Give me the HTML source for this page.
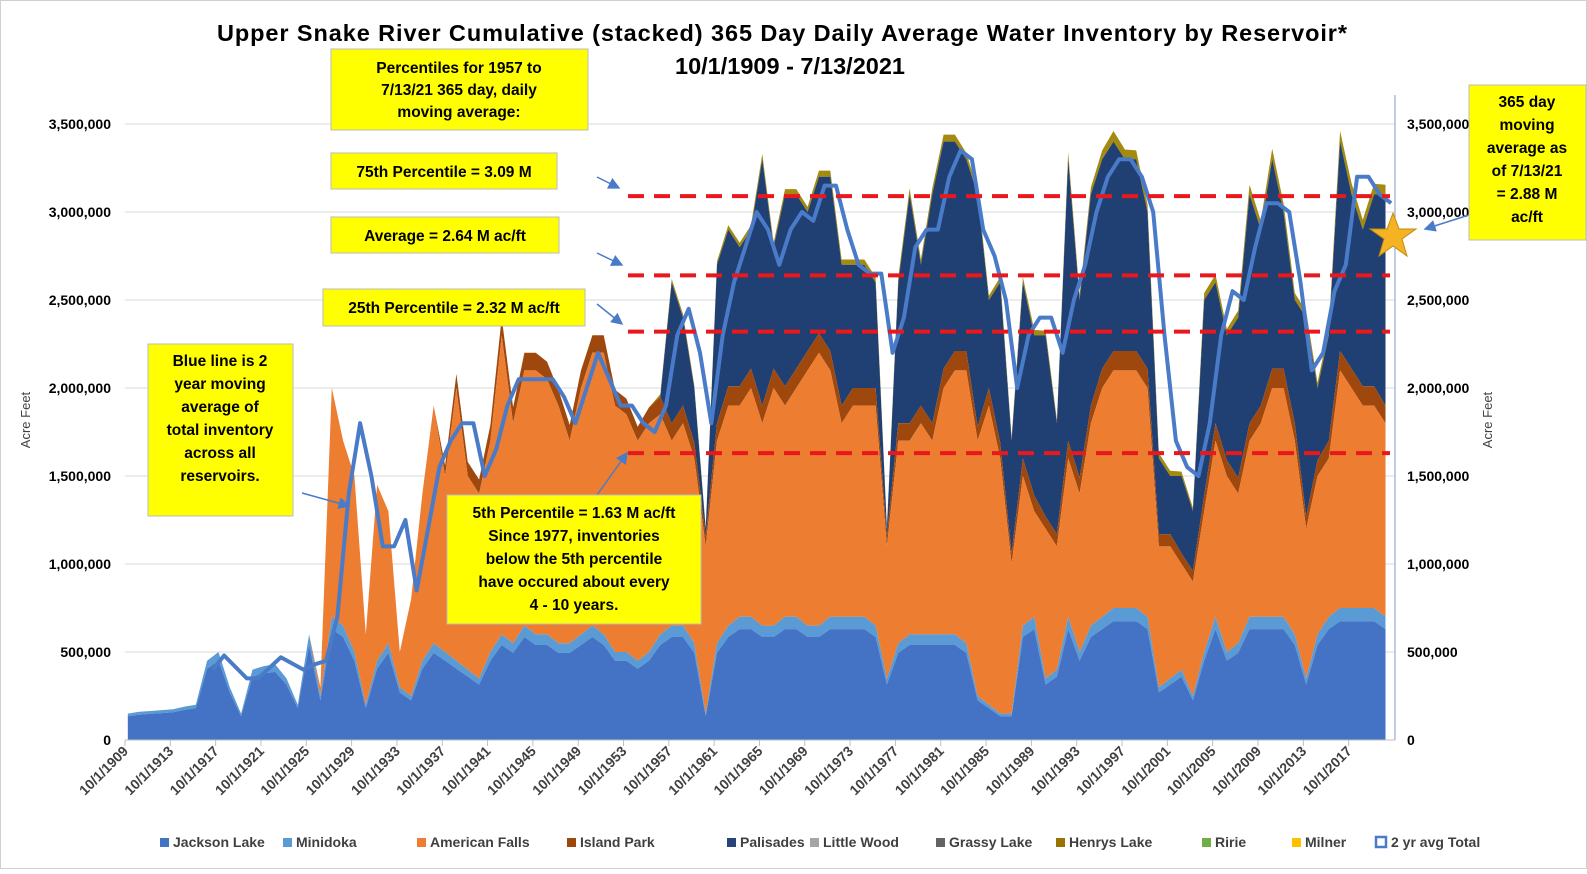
<!DOCTYPE html>
<html><head><meta charset="utf-8"><style>
html,body{margin:0;padding:0;background:#fff;}
body{width:1587px;height:869px;overflow:hidden;font-family:"Liberation Sans",Arial,sans-serif;}
svg text{font-family:"Liberation Sans",Arial,sans-serif;}
</style></head><body>
<svg id="chart" width="1587" height="869" viewBox="0 0 1587 869" xmlns="http://www.w3.org/2000/svg">
<rect x="0.5" y="0.5" width="1586" height="868" fill="#fff" stroke="#d0d0d0"/>
<text x="782" y="41" text-anchor="middle" font-size="23.5" font-weight="bold" fill="#000" textLength="1130">Upper Snake River Cumulative (stacked) 365 Day Daily Average Water Inventory by Reservoir*</text>
<text x="790" y="74" text-anchor="middle" font-size="23.5" font-weight="bold" fill="#000">10/1/1909 - 7/13/2021</text>
<g id="grid"></g>
<g id="areas"></g>
<g id="lines"></g>
<g id="axes"></g>
<g id="annot"></g>
<g id="legend"></g>
</svg>
<script>
const years=[];for(let y=1910;y<=2021;y++)years.push(y);
const blueTop=[150,160,165,170,175,190,200,450,500,300,
150,400,420,430,350,200,600,250,700,650,
500,200,450,550,300,250,450,550,500,450,
400,350,500,600,550,650,600,600,550,550,
600,650,600,500,500,450,500,600,650,650,
550,150,550,650,700,700,650,650,700,700,
650,650,700,700,700,700,650,350,550,600,
600,600,600,600,550,250,200,150,150,650,
700,350,400,700,500,650,700,750,750,750,
700,300,350,400,250,500,700,500,550,700,
700,700,700,600,350,600,700,750,750,750,
750,700];
const orangeTop=[150,160,165,170,175,190,200,450,500,300,
150,400,420,430,350,200,600,300,2000,1700,
1500,600,1450,1300,500,800,1400,1900,1500,2000,
1500,1400,1700,2300,1800,2100,2100,2050,1900,1700,
2000,2200,2200,1900,1850,1700,1800,1850,1700,1800,
1600,1100,1700,1900,1900,2000,1800,2000,1900,2000,
2100,2200,2100,1800,1900,1900,1900,1100,1700,1700,
1800,1700,2000,2100,2100,1700,1900,1600,1000,1500,
1300,1200,1100,1600,1400,1800,2000,2100,2100,2100,
2000,1100,1100,1000,900,1300,1700,1500,1400,1700,
1800,2000,2000,1700,1200,1500,1600,2100,2000,1900,
1900,1800];
const islandPark=[0,0,0,0,0,0,0,0,0,0,
0,0,0,0,0,0,0,0,0,0,
0,0,0,0,0,0,0,0,60,80,
80,80,90,100,90,100,100,100,90,90,
100,100,100,90,90,80,90,100,100,100,
90,60,100,110,110,110,100,110,110,110,
110,110,110,100,100,100,100,60,100,100,
100,100,110,110,110,80,100,90,60,100,
90,70,70,100,90,100,110,110,110,110,
110,70,70,60,60,90,100,90,90,100,
100,110,110,100,70,90,100,110,110,110,
110,100];
const palisadesTop=[0,0,0,0,0,0,0,0,0,0,
0,0,0,0,0,0,0,0,0,0,
0,0,0,0,0,0,0,0,0,0,
0,0,0,0,0,0,0,0,0,0,
0,0,0,0,0,0,0,1800,2600,2400,
2000,1200,2700,2900,2800,2900,3300,2800,3100,3100,
3000,3200,3200,2700,2700,2700,2600,1200,2600,3100,
2700,3100,3400,3400,3300,3100,2500,2600,1700,2600,
2300,2300,1800,3300,2500,3100,3300,3400,3300,3300,
3000,1600,1500,1500,1300,2500,2600,2300,2400,3100,
2900,3300,3000,2500,2400,2000,2300,3400,3100,2900,
3100,3100];
const others=[0,0,0,0,0,0,0,0,0,0,0,0,0,0,0,0,0,0,0,0,0,0,0,0,0,0,0,0,0,0,0,0,0,0,0,0,0,0,0,0,0,0,0,0,0,0,0,
15,20,20,15,10,20,25,25,25,30,25,30,30,30,35,35,30,30,30,30,15,30,35,30,35,40,40,35,30,25,30,20,30,30,25,20,40,30,40,50,60,55,50,45,30,30,25,20,40,45,35,40,55,50,60,50,40,35,30,35,60,65,55,60,55];
const avgYears=[1917,1918,1920,1921,1923,1925,1926,1927,1928,1929,1930,1931,1932,1933,1934,1935,1936,1937,1938,1939,1940,1941,1942,1943,1944,1945,1946,1947,1948,1949,1950,1951,1952,1953,1954,1955,1956,1957,1958,1959,1960,1961,1962,1963,1964,1965,1966,1967,1968,1969,1970,1971,1972,1973,1974,1975,1976,1977,1978,1979,1980,1981,1982,1983,1984,1985,1986,1987,1988,1989,1990,1991,1992,1993,1994,1995,1996,1997,1998,1999,2000,2001,2002,2003,2004,2005,2006,2007,2008,2009,2010,2011,2012,2013,2014,2015,2016,2017,2018,2019,2020,2021];
const avgTotal=[400,480,350,350,470,400,430,450,700,1400,1800,1500,1100,1100,1250,850,1200,1550,1700,1800,1800,1500,1650,1900,2050,2050,2050,2050,1950,1800,2000,2200,2050,1900,1900,1800,1750,1900,2300,2450,2200,1800,2300,2600,2800,3000,2900,2700,2900,3000,2950,3150,3150,2900,2700,2650,2650,2200,2400,2800,2900,2900,3200,3350,3300,2900,2750,2500,2000,2300,2400,2400,2200,2500,2700,3000,3200,3300,3300,3200,3000,2300,1700,1550,1500,1800,2300,2550,2500,2800,3050,3050,3000,2600,2100,2200,2550,2700,3200,3200,3100,3050];
const yTicks=[0,500000,1000000,1500000,2000000,2500000,3000000,3500000];
const xTickYears=[1909,1913,1917,1921,1925,1929,1933,1937,1941,1945,1949,1953,1957,1961,1965,1969,1973,1977,1981,1985,1989,1993,1997,2001,2005,2009,2013,2017];
const percentiles=[3090000,2640000,2320000,1630000];

const NS="http://www.w3.org/2000/svg";
const X0=125,X1=1395,Y0=740,PXV=88/500000;
const xs=yr=>X0+(yr-1909.75)*11.33;
const ys=v=>Y0-v*PXV;
function mk(tag,attrs,parent){const e=document.createElementNS(NS,tag);for(const k in attrs)e.setAttribute(k,attrs[k]);parent.appendChild(e);return e;}
const grid=document.getElementById('grid'),areas=document.getElementById('areas'),lines=document.getElementById('lines'),axes=document.getElementById('axes');

yTicks.forEach((t,i)=>{
 const g=mk('line',{x1:X0,x2:X1,y1:ys(t),y2:ys(t),stroke:'#d9d9d9','stroke-width':1},grid);
 
 
 const lab=t.toLocaleString('en-US');
 const l=mk('text',{x:111,y:ys(t)+5,'text-anchor':'end','font-size':14,'font-weight':'bold',fill:'#000'},axes);l.textContent=lab;
 
 
 const r=mk('text',{x:1407,y:ys(t)+5,'text-anchor':'start','font-size':14,'font-weight':'bold',fill:'#000'},axes);r.textContent=lab;
 
 
});

const lvJack=blueTop.map(v=>v*0.9);
const lvBlue=blueTop;
const lvOrange=orangeTop.map((v,i)=>Math.max(v,blueTop[i]));
const lvIsland=lvOrange.map((v,i)=>v+islandPark[i]);
const lvPal=lvIsland.map((v,i)=>Math.max(v,palisadesTop[i]));
const lvOth=lvPal.map((v,i)=>v+others[i]);
function band(top,bot,color,name){
 let d='M'+xs(years[0])+','+ys(bot[0]*1000);
 years.forEach((y,i)=>{d+=' L'+xs(y).toFixed(1)+','+ys(top[i]*1000).toFixed(1);});
 for(let i=years.length-1;i>=0;i--)d+=' L'+xs(years[i]).toFixed(1)+','+ys(bot[i]*1000).toFixed(1);
 d+='Z';
 const p=mk('path',{d:d,fill:color,stroke:'none'},areas);
 
 
}
const zero=years.map(()=>0);
band(lvOth,lvPal,'#a58a10','area-other-reservoirs');
band(lvPal,lvIsland,'#203f73','area-palisades');
band(lvIsland,lvOrange,'#9E480E','area-island-park');
band(lvOrange,lvBlue,'#ED7D31','area-american-falls');
band(lvBlue,lvJack,'#5B9BD5','area-minidoka');
band(lvJack,zero,'#4472C4','area-jackson-lake');

const ax=mk('line',{x1:X0,x2:X1,y1:Y0,y2:Y0,stroke:'#bfbfbf','stroke-width':1},axes);


const ra=mk('line',{x1:X1,x2:X1,y1:95,y2:Y0,stroke:'#7f9cc9','stroke-width':1},axes);


xTickYears.forEach(yr=>{
 const x=xs(yr+0.75);
 const t=mk('line',{x1:x,x2:x,y1:Y0,y2:Y0+6,stroke:'#bfbfbf'},axes);
 
 
 const l=mk('text',{x:x+4,y:Y0+12,'text-anchor':'end','font-size':14,'font-weight':'bold',fill:'#404040',transform:'rotate(-45 '+(x+4)+' '+(Y0+12)+')'},axes);
 l.textContent='10/1/'+yr;
 
 
});
const lt=mk('text',{x:30,y:420,'text-anchor':'middle','font-size':13,fill:'#404040',transform:'rotate(-90 30 420)'},axes);lt.textContent='Acre Feet';


const rt=mk('text',{x:1492,y:420,'text-anchor':'middle','font-size':13,fill:'#404040',transform:'rotate(-90 1492 420)'},axes);rt.textContent='Acre Feet';



let d='';avgYears.forEach((y,i)=>{d+=(i?' L':'M')+xs(y+0.5).toFixed(1)+','+ys(avgTotal[i]*1000).toFixed(1);});
const al=mk('path',{d:d,fill:'none',stroke:'#4a7bc8','stroke-width':4,'stroke-linejoin':'round'},lines);



percentiles.forEach((p,i)=>{
 const l=mk('line',{x1:628,x2:X1-5,y1:ys(p),y2:ys(p),stroke:'#e8181d','stroke-width':4,'stroke-dasharray':'16,10'},lines);
 
 
});
</script>
<svg style="position:absolute;left:0;top:0" width="1587" height="869">
<defs><marker id="ah" markerWidth="8" markerHeight="8" refX="7" refY="4" orient="auto"><path d="M0,0 L8,4 L0,8Z" fill="#4a7bc8"/></marker></defs>
<g stroke="#4a7bc8" stroke-width="1.5" marker-end="url(#ah)">
<line x1="597" y1="177" x2="619" y2="188"/>
<line x1="597" y1="253" x2="622" y2="265"/>
<line x1="597" y1="304" x2="622" y2="324"/>
<line x1="597" y1="495" x2="627" y2="453"/>
<line x1="302" y1="493" x2="349" y2="506"/>
<line x1="1469" y1="215" x2="1425" y2="229"/>
</g>
<polygon points="1393,213 1399,229 1416,229 1402,239 1407,256 1393,246 1379,256 1384,239 1370,229 1387,229" fill="#f5b323" stroke="#c08a10" stroke-width="1"/>
<g font-size="15.5" font-weight="bold" text-anchor="middle" fill="#000">
<rect x="331" y="49" width="257" height="81" fill="#ffff00" stroke="#bbb"/>
<text x="459" y="73"><tspan x="459">Percentiles for 1957 to</tspan><tspan x="459" dy="22">7/13/21 365 day, daily</tspan><tspan x="459" dy="22">moving average:</tspan></text>
<rect x="331" y="153" width="226" height="36" fill="#ffff00" stroke="#bbb"/>
<text x="444" y="177">75th Percentile = 3.09 M</text>
<rect x="331" y="217" width="228" height="36" fill="#ffff00" stroke="#bbb"/>
<text x="445" y="241">Average = 2.64 M ac/ft</text>
<rect x="323" y="289" width="262" height="37" fill="#ffff00" stroke="#bbb"/>
<text x="454" y="313">25th Percentile = 2.32 M ac/ft</text>
<rect x="148" y="344" width="145" height="172" fill="#ffff00" stroke="#bbb"/>
<text x="220" y="366"><tspan x="220">Blue line is 2</tspan><tspan x="220" dy="23">year moving</tspan><tspan x="220" dy="23">average of</tspan><tspan x="220" dy="23">total inventory</tspan><tspan x="220" dy="23">across all</tspan><tspan x="220" dy="23">reservoirs.</tspan></text>
<rect x="447" y="495" width="254" height="129" fill="#ffff00" stroke="#bbb"/>
<text x="574" y="518"><tspan x="574">5th Percentile = 1.63 M ac/ft</tspan><tspan x="574" dy="23">Since 1977, inventories</tspan><tspan x="574" dy="23">below the 5th percentile</tspan><tspan x="574" dy="23">have occured about every</tspan><tspan x="574" dy="23">4 - 10 years.</tspan></text>
<rect x="1469" y="85" width="117" height="155" fill="#ffff00" stroke="#bbb"/>
<text x="1527" y="107"><tspan x="1527">365 day</tspan><tspan x="1527" dy="23">moving</tspan><tspan x="1527" dy="23">average as</tspan><tspan x="1527" dy="23">of 7/13/21</tspan><tspan x="1527" dy="23">= 2.88 M</tspan><tspan x="1527" dy="23">ac/ft</tspan></text>
</g>
<g font-size="14" font-weight="bold" fill="#404040">
<g><rect x="160" y="838" width="9" height="9" fill="#4472C4"/><text x="173" y="847">Jackson Lake</text></g>
<g><rect x="283" y="838" width="9" height="9" fill="#5B9BD5"/><text x="296" y="847">Minidoka</text></g>
<g><rect x="417" y="838" width="9" height="9" fill="#ED7D31"/><text x="430" y="847">American Falls</text></g>
<g><rect x="567" y="838" width="9" height="9" fill="#9E480E"/><text x="580" y="847">Island Park</text></g>
<g><rect x="727" y="838" width="9" height="9" fill="#264478"/><text x="740" y="847">Palisades</text></g>
<g><rect x="810" y="838" width="9" height="9" fill="#A5A5A5"/><text x="823" y="847">Little Wood</text></g>
<g><rect x="936" y="838" width="9" height="9" fill="#636363"/><text x="949" y="847">Grassy Lake</text></g>
<g><rect x="1056" y="838" width="9" height="9" fill="#997300"/><text x="1069" y="847">Henrys Lake</text></g>
<g><rect x="1202" y="838" width="9" height="9" fill="#70AD47"/><text x="1215" y="847">Ririe</text></g>
<g><rect x="1292" y="838" width="9" height="9" fill="#FFC000"/><text x="1305" y="847">Milner</text></g>
<g><rect x="1376" y="837" width="10" height="10" fill="#fff" stroke="#4a7bc8" stroke-width="2.5"/><text x="1391" y="847">2 yr avg Total</text></g>
</g>
</svg>
</body></html>
